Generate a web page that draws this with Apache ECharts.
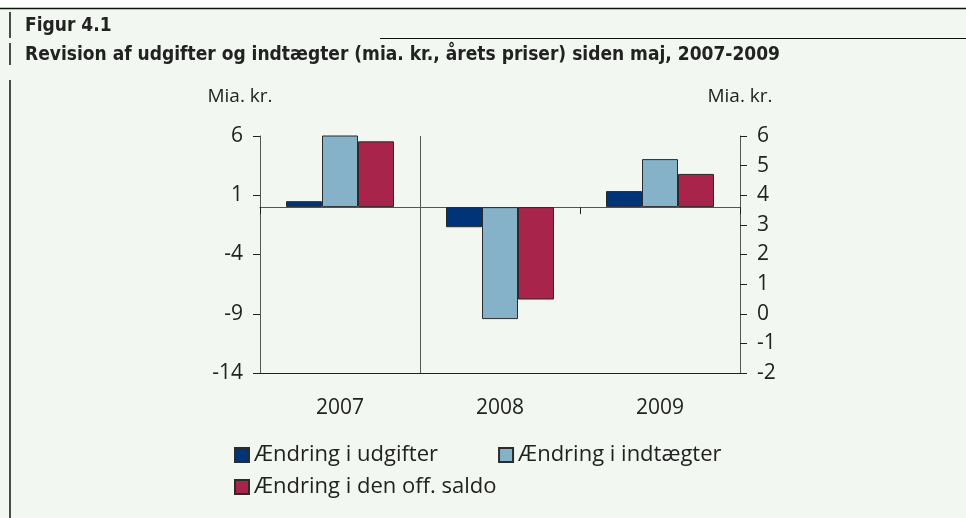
<!DOCTYPE html>
<html>
<head>
<meta charset="utf-8">
<script src="https://cdn.jsdelivr.net/npm/echarts@6/dist/echarts.min.js"></script>
<style>
  html, body { margin: 0; padding: 0; background: #fff; }
  #chart { width: 966px; height: 518px; }
</style>
</head>
<body>
<div id="chart"></div>
<script>
const years = ['2007', '2008', '2009'];
const seriesNames = ['Ændring i udgifter', 'Ændring i indtægter', 'Ændring i den off. saldo'];
const udgifter = [0.5, -1.7, 1.35];
const indtaegter = [6.05, -9.45, 4.05];
const saldo = [5.55, -7.8, 2.8];
const figLabel = 'Figur 4.1';
const titleText = 'Revision af udgifter og indtægter (mia. kr., årets priser) siden maj, 2007-2009';
const unitText = 'Mia. kr.';

const FONT = "'Liberation Sans Narrow', 'DejaVu Sans Condensed', 'Noto Sans', sans-serif";
const LABEL_FONT = "'Open Sans', 'Noto Sans', sans-serif";
const colors = ['#003479', '#86b2c9', '#a8244a'];
const ink = '#222';
const axisGray = '#555';

const chart = echarts.init(document.getElementById('chart'), null, { renderer: 'canvas' });

const barStyle = (c) => ({ color: c, borderColor: '#2b2b2b', borderWidth: 1 });

const option = {
  backgroundColor: '#f3f7f2',
  animation: false,
  textStyle: { fontFamily: LABEL_FONT },
  graphic: [
    { type: 'rect', shape: { x: 0, y: 0, width: 966, height: 8 }, style: { fill: '#fff' }, silent: true },
    { type: 'line', shape: { x1: 0, y1: 8.5, x2: 966, y2: 8.5 }, style: { stroke: '#111', lineWidth: 1.5 } },
    { type: 'line', shape: { x1: 380, y1: 38.5, x2: 966, y2: 38.5 }, style: { stroke: '#111', lineWidth: 1 } },
    { type: 'line', shape: { x1: 10, y1: 12, x2: 10, y2: 38 }, style: { stroke: '#111', lineWidth: 1.5 } },
    { type: 'line', shape: { x1: 10, y1: 43, x2: 10, y2: 65 }, style: { stroke: '#111', lineWidth: 1.5 } },
    { type: 'line', shape: { x1: 10, y1: 80, x2: 10, y2: 518 }, style: { stroke: '#111', lineWidth: 1.5 } },
    { type: 'text', left: 25, top: 17, style: { text: figLabel, font: 'bold 19px ' + FONT, fill: ink } },
    { type: 'text', left: 25, top: 46, style: { text: titleText, font: 'bold 19px ' + FONT, fill: ink } }
  ],
  legend: [
    {
      data: seriesNames.slice(0, 2),
      left: 234, top: 444, padding: 0,
      itemWidth: 14, itemHeight: 14, itemGap: 60,
      icon: 'rect',
      textStyle: { fontSize: 22, color: ink, fontFamily: LABEL_FONT }
    },
    {
      data: seriesNames.slice(2),
      left: 234, top: 476, padding: 0,
      itemWidth: 14, itemHeight: 14,
      icon: 'rect',
      textStyle: { fontSize: 22, color: ink, fontFamily: LABEL_FONT }
    }
  ],
  grid: { left: 260, right: 226, top: 136, bottom: 145, containLabel: false },
  xAxis: [
    {
      type: 'category',
      data: years,
      axisLine: { onZero: true, lineStyle: { color: axisGray, width: 1 } },
      axisTick: { show: true, length: 7, inside: false, lineStyle: { color: ink } },
      axisLabel: { show: false },
      splitLine: { show: false }
    },
    {
      type: 'category',
      data: years,
      position: 'bottom',
      axisLine: { onZero: false, lineStyle: { color: ink, width: 1 } },
      axisTick: { show: false },
      axisLabel: { fontSize: 21, color: ink, margin: 25, fontFamily: LABEL_FONT },
      splitLine: { show: false }
    }
  ],
  yAxis: [
    {
      type: 'value',
      min: -14, max: 6, interval: 5,
      position: 'left',
      name: unitText,
      nameLocation: 'end',
      nameGap: 30,
      nameTextStyle: { fontSize: 19, color: ink, padding: [0, 40, 0, 0], fontFamily: LABEL_FONT },
      axisLine: { show: true, lineStyle: { color: axisGray } },
      axisTick: { show: true, length: 7, inside: false, lineStyle: { color: ink } },
      axisLabel: { fontSize: 21, color: ink, margin: 17, fontFamily: LABEL_FONT },
      splitLine: { show: false }
    },
    {
      type: 'value',
      min: -2, max: 6, interval: 1,
      position: 'right',
      name: unitText,
      nameLocation: 'end',
      nameGap: 30,
      nameTextStyle: { fontSize: 19, color: ink, fontFamily: LABEL_FONT },
      axisLine: { show: true, lineStyle: { color: axisGray } },
      axisTick: { show: true, length: 7, inside: false, lineStyle: { color: ink } },
      axisLabel: { fontSize: 21, color: ink, margin: 17, fontFamily: LABEL_FONT },
      splitLine: { show: false }
    }
  ],
  series: [
    { name: seriesNames[0], type: 'bar', data: udgifter, barWidth: 36, barGap: '0%', itemStyle: barStyle(colors[0]) },
    { name: seriesNames[1], type: 'bar', data: indtaegter, barWidth: 36, barGap: '0%', itemStyle: barStyle(colors[1]) },
    { name: seriesNames[2], type: 'bar', data: saldo, barWidth: 36, barGap: '0%', itemStyle: barStyle(colors[2]) }
  ]
};

chart.setOption(option);

// full-height divider between 2007 and 2008, placed through the axis scale
const xA = chart.convertToPixel({ xAxisIndex: 0 }, years[0]);
const xB = chart.convertToPixel({ xAxisIndex: 0 }, years[1]);
const yTop = chart.convertToPixel({ yAxisIndex: 0 }, 6);
const yBot = chart.convertToPixel({ yAxisIndex: 0 }, -14);
const xDiv = Math.round((xA + xB) / 2) + 0.5;
chart.setOption({
  graphic: option.graphic.concat([
    { type: 'line', z: 1, shape: { x1: xDiv, y1: yTop, x2: xDiv, y2: yBot }, style: { stroke: axisGray, lineWidth: 1 } }
  ])
});
</script>
</body>
</html>
